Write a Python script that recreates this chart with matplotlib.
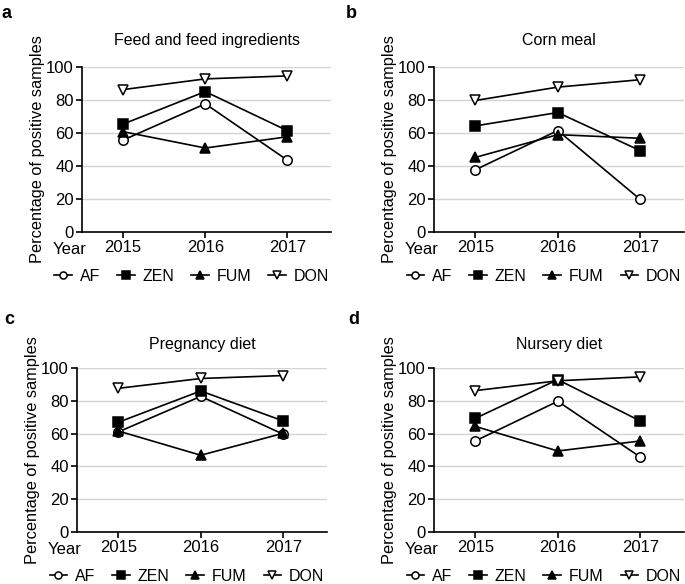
import numpy as np
import matplotlib.pyplot as plt

plt.rcParams['font.family'] = ['Liberation Sans', 'DejaVu Sans']

years = [2015, 2016, 2017]
toxins = ['AF', 'ZEN', 'FUM', 'DON']
titles = ['Feed and feed ingredients', 'Corn meal', 'Pregnancy diet', 'Nursery diet']
letters = ['a', 'b', 'c', 'd']

# percentage of positive samples, per panel, per toxin (2015, 2016, 2017)
feed = {'AF': [55.7, 77.7, 43.5], 'ZEN': [65.4, 85.1, 61.4],
        'FUM': [60.8, 50.9, 57.7], 'DON': [86.3, 92.8, 94.6]}
corn = {'AF': [37.7, 61.5, 19.7], 'ZEN': [64.3, 72.4, 49.3],
        'FUM': [45.2, 59.0, 56.8], 'DON': [79.7, 87.8, 92.3]}
pregnancy = {'AF': [61.0, 82.7, 59.6], 'ZEN': [66.9, 86.0, 67.7],
             'FUM': [61.6, 46.8, 60.2], 'DON': [87.6, 93.6, 95.4]}
nursery = {'AF': [55.5, 79.7, 45.7], 'ZEN': [69.3, 92.9, 67.7],
           'FUM': [64.4, 49.4, 55.5], 'DON': [86.2, 92.2, 94.6]}
panels = [feed, corn, pregnancy, nursery]

styles = {'AF': dict(marker='o', mfc='white'),
          'ZEN': dict(marker='s', mfc='black'),
          'FUM': dict(marker='^', mfc='black'),
          'DON': dict(marker='v', mfc='white')}

fig = plt.figure(figsize=(6.85, 5.84), dpi=100)
W, H = 685, 584
boxes = [(82, 331, 67, 232), (434, 684, 67, 232),
         (77, 327, 368, 532), (434, 684, 368, 532)]
letter_pos = [(2, 14), (346, 14), (4, 320), (348, 320)]

for i in range(4):
    x0, x1, yt, yb = boxes[i]
    ax = fig.add_axes([x0 / W, 1 - yb / H, (x1 - x0) / W, (yb - yt) / H])
    data = panels[i]
    for t in toxins:
        st = styles[t]
        ax.plot(years, data[t], color='black', lw=1.2, marker=st['marker'],
                mfc=st['mfc'], mec='black', mew=1.1, ms=6.8, label=t,
                clip_on=False, zorder=3)
    ax.set_xlim(2014.5, 2017.53)
    ax.set_ylim(0, 100)
    ax.set_xticks(years)
    ax.set_yticks([0, 20, 40, 60, 80, 100])
    ax.yaxis.grid(True, color='#d3d3d3', lw=1)
    ax.set_axisbelow(True)
    for s in ['top', 'right']:
        ax.spines[s].set_visible(False)
    for s in ['left', 'bottom']:
        ax.spines[s].set_linewidth(1.2)
    ax.tick_params(labelsize=12, width=1.2, length=4, pad=2)
    ax.set_ylabel('Percentage of positive samples', fontsize=11.8, labelpad=1)
    ax.set_title(titles[i], fontsize=11.5, pad=16 if i < 2 else 14)
    ax.text(2014.56, -0.105, 'Year', transform=ax.get_xaxis_transform(),
            ha='right', va='center', fontsize=12)
    ax.legend(loc='upper center', bbox_to_anchor=(0.44, -0.215), ncol=4,
              frameon=False, fontsize=11.5, handlelength=1.1, handletextpad=0.5,
              columnspacing=1.05, borderaxespad=0, borderpad=0.1,
              markerscale=0.75)
    lx, ly = letter_pos[i]
    fig.text(lx / W, 1 - ly / H, letters[i], fontsize=13, fontweight='bold',
             ha='left', va='center')

fig.savefig('out.png', dpi=100)
